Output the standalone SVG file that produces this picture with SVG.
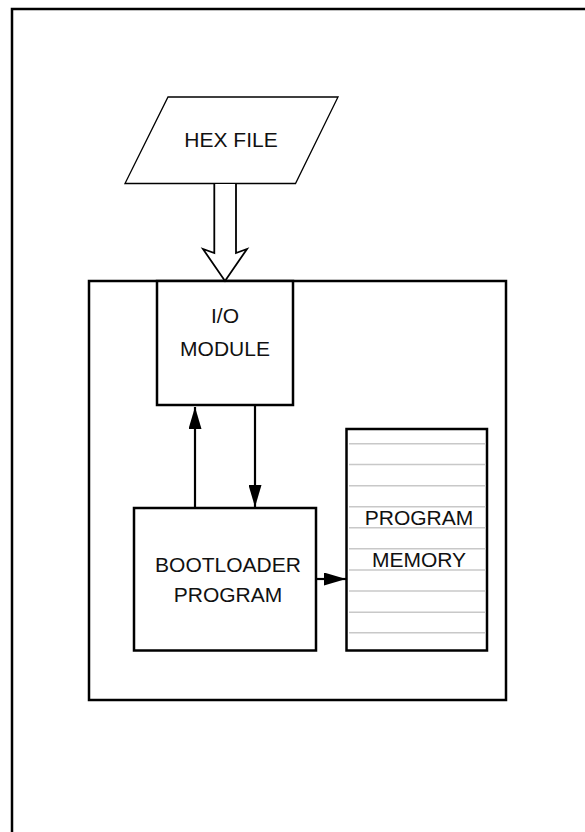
<svg xmlns="http://www.w3.org/2000/svg" width="585" height="832" viewBox="0 0 585 832">
<style>
.box{fill:#fff;stroke:#000;stroke-width:2.5}
.lbl{font-family:"Liberation Sans",Arial,sans-serif;font-size:21px;fill:#111;text-anchor:middle}
.conn{stroke:#000;stroke-width:2.2;fill:none}
.row{stroke:#c8c8c8;stroke-width:1.5}
</style>
<defs>
<marker id="ah" markerWidth="22" markerHeight="13" refX="22" refY="6.5" viewBox="0 0 22 13" markerUnits="userSpaceOnUse" orient="auto">
<path d="M0,0 L22,6.5 L0,13 Z" fill="#000"/>
</marker>
</defs>
<rect width="585" height="832" fill="#fff"/>
<g id="frame">
<path d="M12,840 L12,9 L600,9" fill="none" stroke="#000" stroke-width="2.5"/>
</g>
<g id="container">
<rect class="box" x="89" y="281" width="417" height="419"/>
</g>
<g id="hexfile">
<polygon points="168,97 338,97 295.5,183.5 125,183.5" fill="#fff" stroke="#000" stroke-width="1.3"/>
<text class="lbl" x="231" y="147">HEX FILE</text>
</g>
<g id="io">
<rect class="box" x="157" y="281" width="136" height="124"/>
<text class="lbl" x="225" y="323">I/O</text>
<text class="lbl" x="225" y="356">MODULE</text>
</g>
<g id="bootloader">
<rect class="box" x="134" y="508" width="182" height="142.5"/>
<text class="lbl" x="228" y="572">BOOTLOADER</text>
<text class="lbl" x="228" y="602">PROGRAM</text>
</g>
<g id="memory">
<rect class="box" x="346.5" y="429" width="140.5" height="221.5"/>
<g>
<line class="row" x1="349" x2="486" y1="443.7" y2="443.7"/>
<line class="row" x1="349" x2="486" y1="464.5" y2="464.5"/>
<line class="row" x1="349" x2="486" y1="485.7" y2="485.7"/>
<line class="row" x1="349" x2="486" y1="506.7" y2="506.7"/>
<line class="row" x1="349" x2="486" y1="527.7" y2="527.7"/>
<line class="row" x1="349" x2="486" y1="548.7" y2="548.7"/>
<line class="row" x1="349" x2="486" y1="570" y2="570"/>
<line class="row" x1="349" x2="486" y1="591" y2="591"/>
<line class="row" x1="349" x2="486" y1="612.3" y2="612.3"/>
<line class="row" x1="349" x2="486" y1="632.7" y2="632.7"/>
</g>
<text class="lbl" x="419" y="525">PROGRAM</text>
<text class="lbl" x="419" y="567">MEMORY</text>
</g>
<g id="connectors">
<path d="M214.3,184 L214.3,253 L203,249 L225,281 L247,249 L236,253 L236,184" fill="#fff" stroke="#000" stroke-width="1.8" stroke-linejoin="miter"/>
<line class="conn" x1="195" y1="508" x2="195" y2="407" marker-end="url(#ah)"/>
<line class="conn" x1="255" y1="405" x2="255" y2="507" marker-end="url(#ah)"/>
<line class="conn" x1="316" y1="579" x2="346" y2="579" marker-end="url(#ah)"/>
</g>
</svg>
